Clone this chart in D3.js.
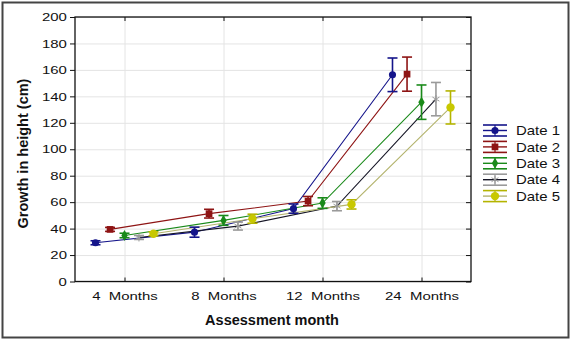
<!DOCTYPE html>
<html>
<head>
<meta charset="utf-8">
<script src="https://cdn.jsdelivr.net/npm/d3@7"></script>
<style>
  body { margin: 0; background: #fff; }
  svg { display: block; font-family: "Liberation Sans", Arial, sans-serif; }
</style>
</head>
<body>
<div id="chart"></div>
<script>
// Datos
const months = ["4  Months", "8  Months", "12  Months", "24  Months"];
const seriesNames = ["Date 1", "Date 2", "Date 3", "Date 4", "Date 5"];
const meanDate1 = [29.3, 37.3, 55.1, 156.3];
const meanDate2 = [39.4, 51.3, 60.8, 156.8];
const meanDate3 = [34.8, 46.2, 59.3, 135.6];
const meanDate4 = [33.3, 41.9, 57.0, 137.9];
const meanDate5 = [36.1, 47.5, 58.3, 131.6];
const errDate1 = [1.5, 3.8, 3.5, 12.7];
const errDate2 = [1.5, 3.3, 3.5, 12.9];
const errDate3 = [1.7, 3.7, 4.0, 13.0];
const errDate4 = [1.5, 3.0, 3.5, 12.6];
const errDate5 = [1.5, 3.4, 3.5, 12.5];
const yTicks = [0, 20, 40, 60, 80, 100, 120, 140, 160, 180, 200];

const means = [meanDate1, meanDate2, meanDate3, meanDate4, meanDate5];
const errs = [errDate1, errDate2, errDate3, errDate4, errDate5];

// Estilos por serie
const lineColors = ["#14148a", "#8e1414", "#1a8a1a", "#151525", "#b4b46e"];
const barColors = ["#14148a", "#8e1414", "#1a8a1a", "#9a9a9a", "#b4b400"];
const markerFill = ["#14148a", "#8e1414", "#1a8a1a", "none", "#c8c800"];
const markerTypes = [d3.symbolCircle, d3.symbolSquare, d3.symbolDiamond, d3.symbolAsterisk, d3.symbolCircle];
const markerSizes = [40, 45, 35, 45, 55];
const offsets = [-0.293, -0.146, 0, 0.146, 0.293];

const width = 571, height = 341;
const margin = { top: 17, right: 100, bottom: 59.5, left: 75 };
const plotW = width - margin.left - margin.right;
const plotH = height - margin.top - margin.bottom;
const sx = 1.3; // el texto de la imagen esta estirado en horizontal

const svg = d3.select("#chart").append("svg")
    .attr("width", width)
    .attr("height", height);

// Marco exterior
svg.append("rect")
    .attr("x", 2.5).attr("y", 2.5)
    .attr("width", 566).attr("height", 335)
    .attr("fill", "none")
    .attr("stroke", "#444")
    .attr("stroke-width", 2);

const g = svg.append("g").attr("transform", `translate(${margin.left},${margin.top})`);

const x = d3.scaleLinear().domain([-0.5, 3.5]).range([0, plotW]);
const y = d3.scaleLinear().domain([0, 200]).range([plotH, 0]);

// Rejilla
g.append("g")
    .attr("class", "grid")
    .call(d3.axisLeft(y).tickValues(yTicks).tickSize(-plotW).tickFormat(""))
    .call(a => a.select(".domain").remove())
    .call(a => a.selectAll("line").attr("stroke", "#e4e4e4"));
g.append("g")
    .attr("class", "grid")
    .attr("transform", `translate(0,${plotH})`)
    .call(d3.axisBottom(x).tickValues([0, 1, 2, 3]).tickSize(-plotH).tickFormat(""))
    .call(a => a.select(".domain").remove())
    .call(a => a.selectAll("line").attr("stroke", "#e4e4e4"));

// Lineas de cada serie
const line = d3.line()
    .x((d, i) => x(i + d.off))
    .y(d => y(d.v));

means.forEach((vals, s) => {
    const pts = vals.map(v => ({ v: v, off: offsets[s] }));
    g.append("path")
        .datum(pts)
        .attr("d", line)
        .attr("fill", "none")
        .attr("stroke", lineColors[s])
        .attr("stroke-width", 1.1);
});

// Barras de error y marcadores
means.forEach((vals, s) => {
    const grp = g.append("g");
    vals.forEach((v, i) => {
        const cx = x(i + offsets[s]);
        const e = errs[s][i];
        grp.append("line")
            .attr("x1", cx).attr("x2", cx)
            .attr("y1", y(v - e)).attr("y2", y(v + e))
            .attr("stroke", barColors[s]).attr("stroke-width", 1.6);
        [v - e, v + e].forEach(c => {
            grp.append("line")
                .attr("x1", cx - 5).attr("x2", cx + 5)
                .attr("y1", y(c)).attr("y2", y(c))
                .attr("stroke", barColors[s]).attr("stroke-width", 1.6);
        });
        grp.append("path")
            .attr("d", d3.symbol().type(markerTypes[s]).size(markerSizes[s]))
            .attr("transform", `translate(${cx},${y(v)})`)
            .attr("fill", markerFill[s])
            .attr("stroke", s === 3 ? barColors[s] : "none")
            .attr("stroke-width", 1);
    });
});

// Marco del area de trazado
g.append("rect")
    .attr("width", plotW).attr("height", plotH)
    .attr("fill", "none")
    .attr("stroke", "#111")
    .attr("stroke-width", 1.3);

// Ejes
const yAxis = g.append("g")
    .call(d3.axisLeft(y).tickValues(yTicks).tickSize(5).tickPadding(0));
yAxis.select(".domain").remove();
yAxis.selectAll("line").attr("stroke", "#111");
yAxis.selectAll("text")
    .attr("x", -6.2)
    .attr("transform", `scale(${sx},1)`)
    .style("font-size", "11.5px")
    .attr("fill", "#111");

g.append("g")
    .attr("transform", `translate(${plotW},0)`)
    .call(d3.axisLeft(y).tickValues(yTicks).tickSize(5).tickFormat(""))
    .call(a => a.select(".domain").remove())
    .call(a => a.selectAll("line").attr("stroke", "#111"));

g.append("g")
    .call(d3.axisBottom(x).tickValues([0, 1, 2, 3]).tickSize(4).tickFormat(""))
    .call(a => a.select(".domain").remove())
    .call(a => a.selectAll("line").attr("stroke", "#111"));

const xAxis = g.append("g")
    .attr("transform", `translate(0,${plotH})`)
    .call(d3.axisBottom(x).tickValues([0, 1, 2, 3]).tickSize(-4).tickFormat(i => months[i]));
xAxis.select(".domain").remove();
xAxis.selectAll("line").attr("stroke", "#111");
xAxis.selectAll("text")
    .attr("y", 10.5)
    .attr("transform", `scale(${sx},1)`)
    .style("font-size", "11.5px")
    .style("white-space", "pre")
    .attr("fill", "#111");

// Titulos de ejes
svg.append("text")
    .attr("x", 272).attr("y", 325)
    .attr("text-anchor", "middle")
    .style("font-size", "14.5px")
    .style("font-weight", "bold")
    .attr("fill", "#111")
    .text("Assessment month");

svg.append("text")
    .attr("transform", "translate(28,153.5) rotate(-90)")
    .attr("text-anchor", "middle")
    .style("font-size", "14.5px")
    .style("font-weight", "bold")
    .attr("fill", "#111")
    .text("Growth in height (cm)");

// Leyenda
const legend = svg.append("g").attr("transform", "translate(483,130.5)");
seriesNames.forEach((name, s) => {
    const row = legend.append("g").attr("transform", `translate(0,${s * 16.4})`);
    [-5.5, 5.5].forEach(dy => {
        row.append("line")
            .attr("x1", 0).attr("x2", 24)
            .attr("y1", dy).attr("y2", dy)
            .attr("stroke", barColors[s]).attr("stroke-width", 1.6);
    });
    row.append("line")
        .attr("x1", 12).attr("x2", 12)
        .attr("y1", -5.5).attr("y2", 5.5)
        .attr("stroke", barColors[s]).attr("stroke-width", 1.2);
    row.append("line")
        .attr("x1", 0).attr("x2", 24)
        .attr("y1", 0).attr("y2", 0)
        .attr("stroke", lineColors[s]).attr("stroke-width", 1.4);
    row.append("path")
        .attr("d", d3.symbol().type(markerTypes[s]).size(markerSizes[s]))
        .attr("transform", "translate(12,0)")
        .attr("fill", markerFill[s])
        .attr("stroke", s === 3 ? barColors[s] : "none");
    row.append("text")
        .attr("x", 33 / 1.15)
        .attr("y", 0)
        .attr("dy", "0.36em")
        .attr("transform", "scale(1.15,1)")
        .style("font-size", "13px")
        .attr("fill", "#111")
        .text(name);
});
</script>
</body>
</html>
